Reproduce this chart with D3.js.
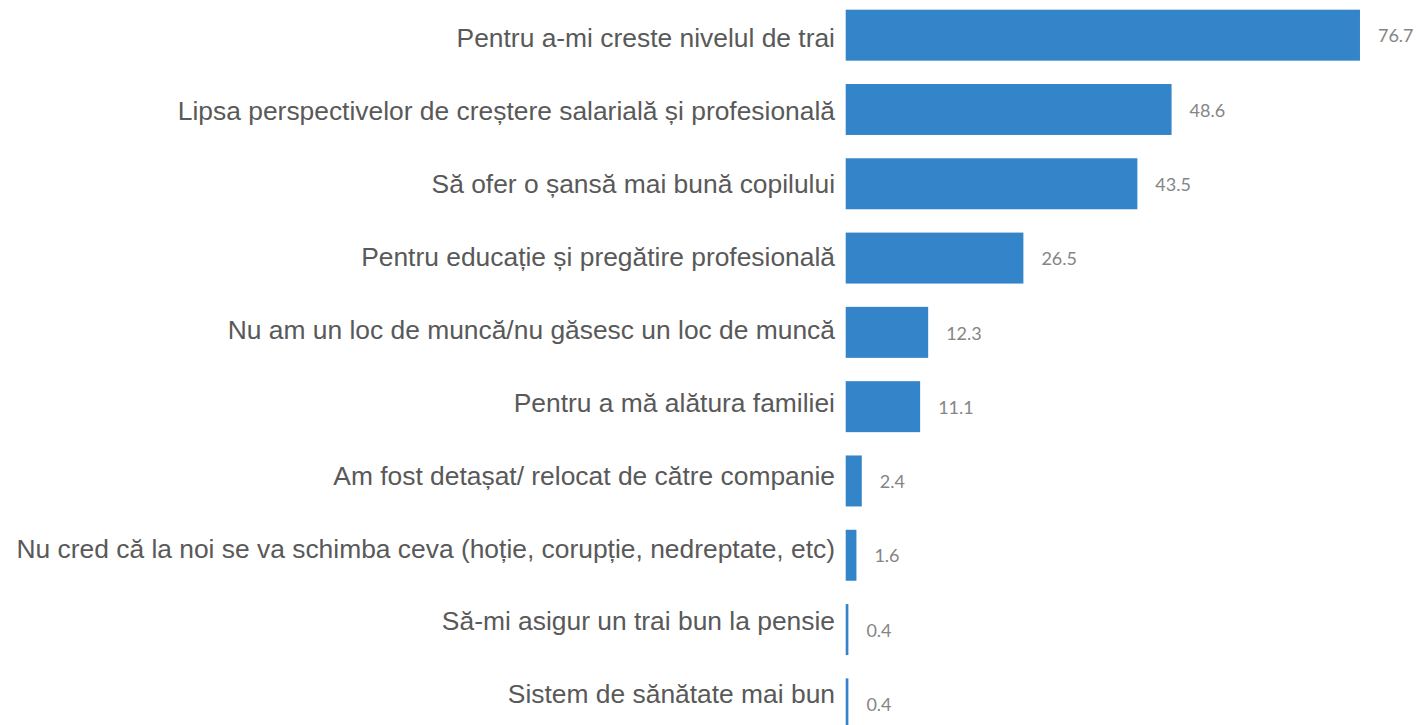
<!DOCTYPE html>
<html>
<head>
<meta charset="utf-8">
<script src="https://cdn.jsdelivr.net/npm/d3@7"></script>
<style>
  body { margin: 0; background: #fff; }
  svg { display: block; }
</style>
</head>
<body>
<svg id="chart" width="1416" height="725"></svg>
<script>
const WIDTH = 1416;
const HEIGHT = 725;

// categories, top to bottom
const reasons = [
  "Pentru a-mi creste nivelul de trai",
  "Lipsa perspectivelor de creștere salarială și profesională",
  "Să ofer o șansă mai bună copilului",
  "Pentru educație și pregătire profesională",
  "Nu am un loc de muncă/nu găsesc un loc de muncă",
  "Pentru a mă alătura familiei",
  "Am fost detașat/ relocat de către companie",
  "Nu cred că la noi se va schimba ceva (hoție, corupție, nedreptate, etc)",
  "Să-mi asigur un trai bun la pensie",
  "Sistem de sănătate mai bun"
];
const percents = [76.7, 48.6, 43.5, 26.5, 12.3, 11.1, 2.4, 1.6, 0.4, 0.4];

const svg = d3.select("#chart");

const xScale = d3.scaleLinear()
  .domain([0, 80])
  .range([845.7, 845.7 + 80 * 6.705]);

// bars
const yScale = d3.scaleBand()
  .domain(reasons)
  .range([-1.97, 741])
  .paddingInner(0.314)
  .paddingOuter(0.157);

// labels sit on a slightly tighter pitch than the bars
const labelY = d3.scalePoint()
  .domain(reasons)
  .range([47.3, 703.3]);

const rows = reasons.map((r, i) => ({ reason: r, value: percents[i] }));

svg.append("g")
  .selectAll("rect")
  .data(rows)
  .enter()
  .append("rect")
  .attr("x", xScale(0))
  .attr("y", d => yScale(d.reason))
  .attr("width", d => Math.max(2, xScale(d.value) - xScale(0)))
  .attr("height", yScale.bandwidth())
  .attr("fill", "#3384c8");

svg.append("g")
  .selectAll("text")
  .data(rows)
  .enter()
  .append("text")
  .attr("x", 835)
  .attr("y", d => labelY(d.reason))
  .attr("text-anchor", "end")
  .style("font-family", "'Liberation Sans', Arial, sans-serif")
  .style("font-size", "26.4px")
  .style("fill", "#595959")
  .text(d => d.reason);

svg.append("g")
  .selectAll("text")
  .data(rows)
  .enter()
  .append("text")
  .attr("x", d => Math.max(xScale(d.value), xScale(0) + 2) + 18)
  .attr("y", d => yScale(d.reason) + yScale.bandwidth() / 2)
  .attr("dy", "0.4em")
  .style("font-family", "Lato, 'Open Sans', sans-serif")
  .style("font-size", "18px")
  .style("fill", "#858585")
  .text(d => d3.format(".1f")(d.value));
</script>
</body>
</html>
